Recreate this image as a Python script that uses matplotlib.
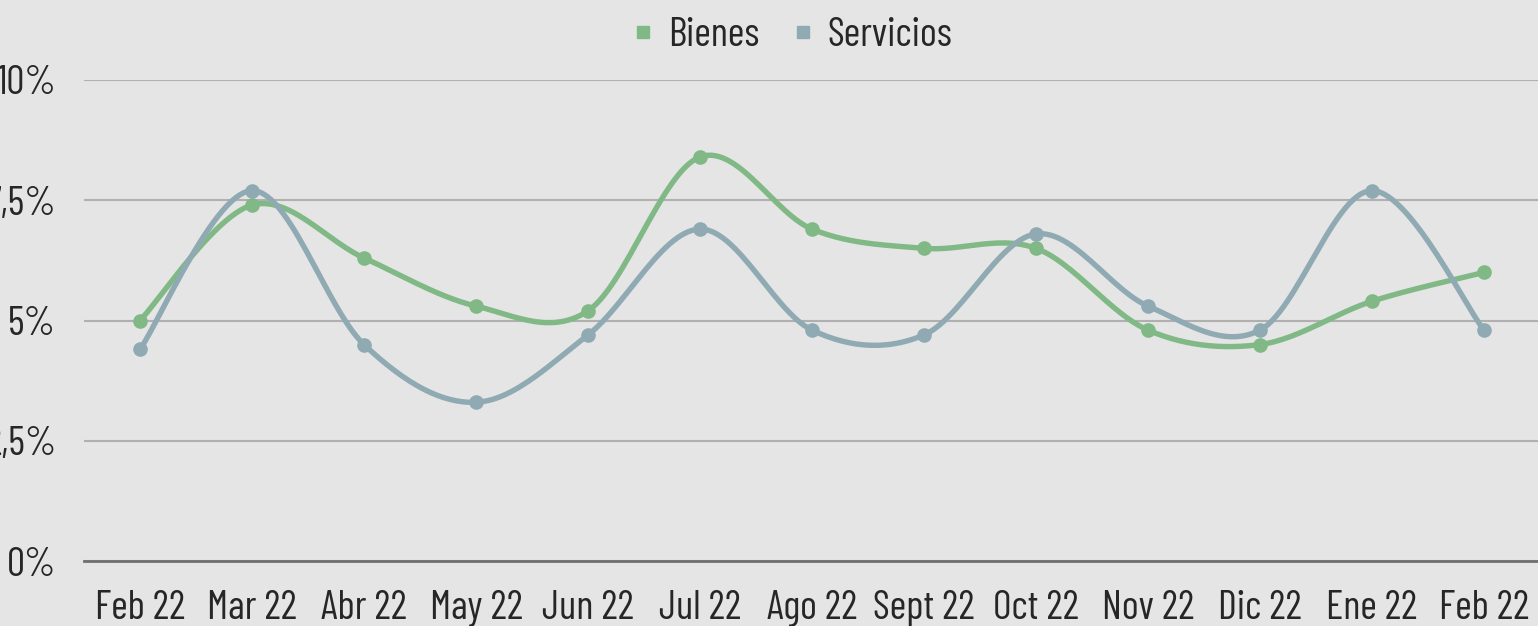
import numpy as np
import matplotlib.pyplot as plt

# Monthly inflation by component (%)
months = ["Feb 22", "Mar 22", "Abr 22", "May 22", "Jun 22", "Jul 22", "Ago 22",
          "Sept 22", "Oct 22", "Nov 22", "Dic 22", "Ene 22", "Feb 22"]
bienes = [5.0, 7.4, 6.3, 5.3, 5.2, 8.4, 6.9, 6.5, 6.5, 4.8, 4.5, 5.4, 6.0]
servicios = [4.4, 7.7, 4.5, 3.3, 4.7, 6.9, 4.8, 4.7, 6.8, 5.3, 4.8, 7.7, 4.8]
y_ticks = [0, 2.5, 5, 7.5, 10]
y_labels = ["0%", "2,5%", "5%", "7,5%", "10%"]

GREEN = "#80b985"
BLUE = "#8faab3"
BG = "#e5e5e5"

plt.rcParams["font.family"] = ["Barlow Condensed", "DejaVu Sans"]


def smooth(x, y, n=30):
    # Catmull-Rom style bezier, similar to a spreadsheet "smoothed line"
    x = np.asarray(x, float)
    y = np.asarray(y, float)
    px = np.concatenate(([x[0]], x, [x[-1]]))
    py = np.concatenate(([y[0]], y, [y[-1]]))
    xs, ys = [], []
    t = np.linspace(0, 1, n)
    for i in range(1, len(px) - 2):
        p0 = np.array([px[i], py[i]])
        p3 = np.array([px[i + 1], py[i + 1]])
        c1 = p0 + (np.array([px[i + 1], py[i + 1]]) - np.array([px[i - 1], py[i - 1]])) / 6
        c2 = p3 - (np.array([px[i + 2], py[i + 2]]) - np.array([px[i], py[i]])) / 6
        b = ((1 - t) ** 3)[:, None] * p0 + (3 * (1 - t) ** 2 * t)[:, None] * c1 \
            + (3 * (1 - t) * t ** 2)[:, None] * c2 + (t ** 3)[:, None] * p3
        xs.extend(b[:, 0])
        ys.extend(b[:, 1])
    return np.array(xs), np.array(ys)


fig = plt.figure(figsize=(15.38, 6.26), dpi=100, facecolor=BG)
ax = fig.add_axes([84 / 1538, 65 / 626, 1456 / 1538, 481 / 626])
ax.set_facecolor(BG)

x = np.arange(len(months))
for vals, color, label in [(bienes, GREEN, "Bienes"), (servicios, BLUE, "Servicios")]:
    sx, sy = smooth(x, vals)
    ax.plot(sx, sy, color=color, lw=3.9, solid_capstyle="round", zorder=3)
    ax.plot(x, vals, "o", color=color, ms=9.5, zorder=4)
    ax.plot([], [], "s", color=color, ms=8, label=label)

ax.set_xlim(-0.5, len(months) - 0.5)
ax.set_ylim(0, 10)
ax.set_yticks(y_ticks)
ax.set_yticklabels(y_labels)
ax.set_xticks(x)
ax.set_xticklabels(months)
ax.tick_params(axis="both", length=0, labelsize=29, colors="#262626")
ax.tick_params(axis="x", pad=21)
ax.tick_params(axis="y", pad=20)

ax.grid(axis="y", color="#b0b0b0", lw=1.5)
ax.set_axisbelow(True)
for s in ["top", "right", "left"]:
    ax.spines[s].set_visible(False)
ax.spines["bottom"].set_color("#707070")
ax.spines["bottom"].set_linewidth(2)
ax.spines["bottom"].set_zorder(2)

leg = ax.legend(loc="center", bbox_to_anchor=(0.487, 1.092), ncol=2,
                frameon=False, fontsize=29, handlelength=0.45, handletextpad=0.4,
                columnspacing=0.85, labelcolor="#262626")

fig.savefig("out.png", dpi=100, facecolor=BG)
